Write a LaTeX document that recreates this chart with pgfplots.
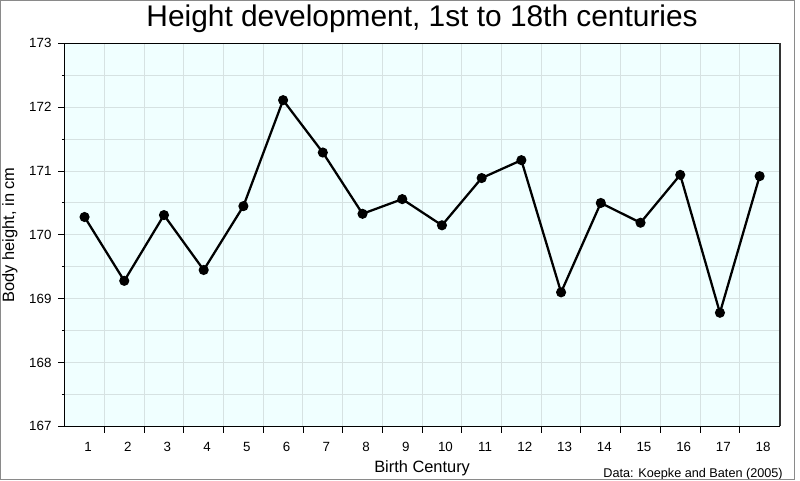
\documentclass[border=0pt]{standalone}
\usepackage{pgfplots}
\pgfplotsset{compat=1.18}
\usepackage{fontspec}
\setmainfont{Liberation Sans}
\definecolor{bgazure}{HTML}{F0FFFF}
\definecolor{gridc}{HTML}{D6E2E2}
\definecolor{framec}{HTML}{8A8A8A}
\definecolor{rightc}{HTML}{333333}
\pgfplotstableread{
century height
1 170.28
2 169.28
3 170.31
4 169.45
5 170.45
6 172.11
7 171.29
8 170.33
9 170.56
10 170.15
11 170.89
12 171.17
13 169.10
14 170.50
15 170.19
16 170.94
17 168.78
18 170.92
}\heights
\begin{document}
\begin{tikzpicture}[x=0.75pt,y=0.75pt]
\begin{axis}[
  at={(48.525pt,40.2pt)}, anchor=south west,
  scale only axis, width=536.1pt, height=287.3pt,
  xmin=0.5, xmax=18.5, ymin=167, ymax=173,
  axis background/.style={fill=bgazure},
  axis line style={black, line width=0.9pt},
  tick align=outside, tick pos=left,
  major tick length=4.9pt, minor tick length=2.2pt,
  tick style={black, line width=0.7pt},
  xtick={1.5,2.5,...,17.5}, xticklabels={},
  extra x ticks={1,2,...,18},
  extra x tick labels={1,2,3,4,5,6,7,8,9,10,11,12,13,14,15,16,17,18},
  extra x tick style={grid=none, tick style={draw=none},
     xticklabel style={xshift=2.6pt, yshift=-3.6pt}},
  ytick={167,168,...,173}, minor y tick num=1,
  yticklabel style={xshift=-1.5pt},
  xmajorgrids, ymajorgrids, yminorgrids,
  major grid style={gridc, line width=0.75pt},
  minor grid style={gridc, line width=0.75pt},
  /pgf/number format/assume math mode=true,
  /pgf/number format/1000 sep={},
  ticklabel style={font=\fontsize{10pt}{12pt}\selectfont},
  title={Height development, 1st to 18th centuries},
  title style={at={(0.5,1.0222)}, anchor=base, font=\fontsize{22.4pt}{26pt}\selectfont, inner sep=0pt},
  xlabel={Birth Century},
  xlabel style={at={(0.5,-0.1216)}, anchor=base, font=\fontsize{12.3pt}{14pt}\selectfont, inner sep=0pt},
  ylabel={Body height, in cm},
  ylabel style={at={(-0.0709,0.5)}, anchor=base, font=\fontsize{12.3pt}{14pt}\selectfont, inner sep=0pt},
  clip=false,
]
\addplot[black, line width=1.7pt, mark=*, mark size=2.9pt, mark options={solid, fill=black}]
  table[x=century, y=height] {\heights};
\draw[rightc, line width=1.5pt] (rel axis cs:1,0) -- (rel axis cs:1,1);
\end{axis}
\node[anchor=base east, inner sep=0pt, font=\fontsize{9.5pt}{11pt}\selectfont] at (783,2.3) {Data: Koepke and Baten (2005)};
\draw[framec, line width=0.75pt] (0.5,0.5) rectangle (794,479.5);
\pgfresetboundingbox
\useasboundingbox (0,0) rectangle (800,480);
\end{tikzpicture}
\end{document}
